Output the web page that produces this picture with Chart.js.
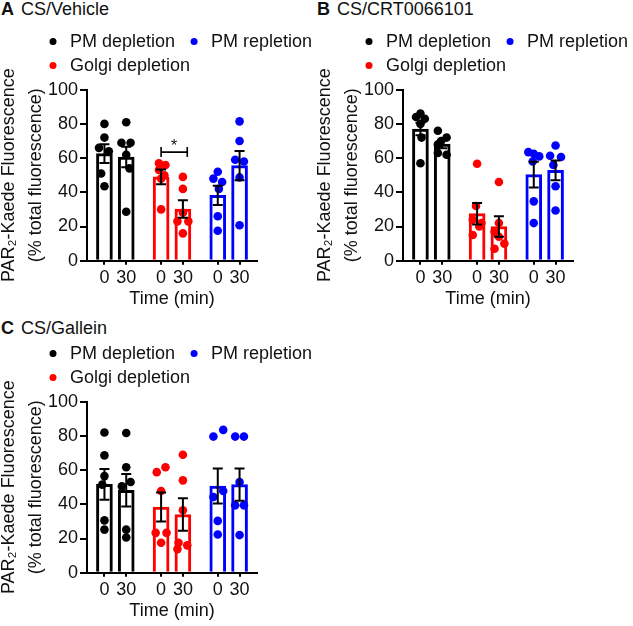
<!DOCTYPE html>
<html>
<head>
<meta charset="utf-8">
<script src="https://cdn.jsdelivr.net/npm/chart.js@4.4.0/dist/chart.umd.min.js"></script>
<style>
  body { margin: 0; background: #fff; width: 633px; height: 626px; position: relative; overflow: hidden; font-family: "Liberation Sans", Arial, sans-serif; }
  canvas { position: absolute; }
  .ttl { position: absolute; font-size: 18px; line-height: 18px; color: #111; white-space: nowrap; }
  .ttl b { margin-right: 2px; }
</style>
</head>
<body>
<div class="ttl" style="left:1px;top:0px"><b>A</b> CS/Vehicle</div>
<div class="ttl" style="left:317px;top:0px"><b>B</b> CS/CRT0066101</div>
<div class="ttl" style="left:1px;top:319px"><b>C</b> CS/Gallein</div>
<canvas id="chartA" width="316" height="310" style="left:0;top:0"></canvas>
<canvas id="chartB" width="316" height="310" style="left:316px;top:0"></canvas>
<canvas id="chartC" width="316" height="310" style="left:0;top:312px"></canvas>
<script>
/* Data */
const timeLabels = ['0', '30'];
const groups = ['PM depletion', 'Golgi depletion', 'PM repletion'];
const legendOrder = ['PM depletion', 'PM repletion', 'Golgi depletion'];
const groupColors = ['#000000', '#ff0000', '#0000ff'];

// bar order: PM dep 0, PM dep 30, Golgi 0, Golgi 30, PM rep 0, PM rep 30
const meansA = [62.6, 60.6, 49, 30.2, 38.2, 55.6];
const semsA = [5.5, 6, 4.3, 5.1, 5.6, 8.5];
const pointsA = [
  [80, 72, 66, 64, 51, 43.5],
  [81, 69, 69, 62, 54, 28.6],
  [57, 56, 53, 50, 48, 30],
  [49, 42, 28, 23, 23, 16],
  [52, 48, 46, 42, 26, 17.5],
  [81.5, 70, 59, 58, 48.7, 20.7]
];
const jitterA = [
  [0, 0, -0.25, 0.2, -0.15, 0],
  [0, -0.22, 0.2, 0, 0.15, 0],
  [-0.1, 0.2, -0.1, 0.15, 0, 0],
  [0, 0, 0, -0.25, 0.25, 0],
  [0, -0.2, 0.2, 0.05, 0, 0],
  [0, 0, -0.2, 0.2, 0, 0]
];

const meansB = [77, 68.2, 27.5, 20, 50.3, 52.8];
const semsB = [3.7, 2.5, 6.3, 6, 7.5, 5.8];
const pointsB = [
  [86, 84, 83, 80, 72, 57],
  [76, 72, 70, 68, 63, 62],
  [56.7, 32, 24, 22, 20, 15],
  [46, 22, 17, 14, 10, 7],
  [63.5, 62.5, 61, 58, 34.7, 22],
  [67.4, 61.4, 60.6, 56, 43.5, 29.4]
];
const jitterB = [
  [0, -0.2, 0.2, 0, 0.05, 0],
  [-0.2, 0.2, -0.05, -0.2, -0.2, 0.2],
  [0, -0.05, -0.2, 0.2, 0.1, -0.2],
  [0, 0, -0.2, 0, 0.25, -0.2],
  [-0.25, 0, 0.25, -0.05, 0, 0],
  [0, -0.25, 0.25, -0.1, 0, 0]
];

const meansC = [51.7, 48.2, 38.4, 34, 50.7, 51.5];
const semsC = [9, 9.5, 8.5, 9.5, 10.3, 9.4];
const pointsC = [
  [82, 68.6, 56.5, 51.5, 30.6, 25.2],
  [81.7, 61.7, 53, 50.5, 25.2, 20.6],
  [61.7, 58.8, 47.8, 23.3, 23.3, 17.5],
  [69, 54, 36.5, 17.5, 16, 13.8],
  [83.5, 79.6, 47.8, 44.3, 30.3, 22.3],
  [79.6, 79.6, 53, 39.4, 39.4, 22]
];
const jitterC = [
  [0, 0, 0, -0.1, 0, 0],
  [0, 0, 0.2, -0.2, 0, 0],
  [0.2, -0.2, 0, -0.25, 0.25, 0],
  [0, 0, 0, -0.2, 0.2, -0.25],
  [0.25, -0.2, 0.25, -0.2, 0, 0],
  [-0.2, 0.2, 0, -0.2, 0.2, 0]
];

// significance bracket in panel A (Golgi 0 vs 30)
const sigA = { from: 2.6, to: 3.8, y: 63.5, label: '*' };

/* Layout */
const FONT = '"Liberation Sans", Arial, sans-serif';
const INK = '#111';
const barSlots = [0, 1, 2.6, 3.6, 5.2, 6.2];

Chart.defaults.font.family = FONT;
Chart.defaults.color = INK;

const dotLegend = {
  id: 'dotLegend',
  afterDraw(chart) {
    const ctx = chart.ctx;
    ctx.save();
    ctx.font = '18px ' + FONT;
    ctx.textBaseline = 'alphabetic';
    let x = 49, y = 47;
    legendOrder.forEach((name, i) => {
      const color = groupColors[groups.indexOf(name)];
      if (i === 2) { x = 49; y = 71; }
      ctx.fillStyle = color;
      ctx.beginPath();
      ctx.arc(x + 4, y - 5.5, 3.5, 0, Math.PI * 2);
      ctx.fill();
      ctx.fillStyle = INK;
      ctx.fillText(name, x + 21, y);
      x += 21 + ctx.measureText(name).width + 15;
    });
    ctx.restore();
  }
};

const errorBars = {
  id: 'errorBars',
  afterDatasetsDraw(chart) {
    const { ctx } = chart;
    const xs = chart.scales.x, ys = chart.scales.y;
    ctx.save();
    ctx.strokeStyle = '#000';
    ctx.lineWidth = 2;
    chart.data.datasets.forEach(ds => {
      if (ds.type !== 'bar') return;
      ds.data.forEach((pt, i) => {
        const px = xs.getPixelForValue(pt.x);
        const top = ys.getPixelForValue(pt.y + ds.sem[i]);
        const bot = ys.getPixelForValue(pt.y - ds.sem[i]);
        ctx.beginPath();
        ctx.moveTo(px, top); ctx.lineTo(px, bot);
        ctx.moveTo(px - 5, top); ctx.lineTo(px + 5, top);
        ctx.moveTo(px - 5, bot); ctx.lineTo(px + 5, bot);
        ctx.stroke();
      });
    });
    const sig = chart.options.plugins.errorBars.sig;
    if (sig) {
      const x1 = xs.getPixelForValue(sig.from), x2 = xs.getPixelForValue(sig.to);
      const yy = ys.getPixelForValue(sig.y);
      ctx.lineWidth = 1.6;
      ctx.beginPath();
      ctx.moveTo(x1, yy - 5); ctx.lineTo(x1, yy + 5);
      ctx.moveTo(x1, yy); ctx.lineTo(x2, yy);
      ctx.moveTo(x2, yy - 5); ctx.lineTo(x2, yy + 5);
      ctx.stroke();
      ctx.fillStyle = INK;
      ctx.font = '16px ' + FONT;
      ctx.textAlign = 'center';
      ctx.textBaseline = 'alphabetic';
      ctx.fillText(sig.label, (x1 + x2) / 2, yy - 1);
    }
    ctx.restore();
  }
};

function makePanel(id, means, sems, points, jitter, sig) {
  const datasets = [];
  groups.forEach((name, g) => {
    const color = groupColors[g];
    const a = g * 2, b = g * 2 + 1;
    datasets.push({
      type: 'scatter',
      label: name,
      order: 1,
      data: [a, b].flatMap(k => points[k].map((v, j) => ({ x: barSlots[k] + jitter[k][j], y: v }))),
      backgroundColor: color,
      borderWidth: 0,
      pointRadius: 4.3
    });
    datasets.push({
      type: 'bar',
      label: name,
      order: 2,
      data: [{ x: barSlots[a], y: means[a] }, { x: barSlots[b], y: means[b] }],
      sem: [sems[a], sems[b]],
      backgroundColor: '#fff',
      borderColor: color,
      borderWidth: 3,
      barThickness: 16,
      grouped: false
    });
  });

  new Chart(document.getElementById(id), {
    type: 'bar',
    data: { datasets },
    options: {
      responsive: false,
      animation: false,
      events: [],
      layout: { padding: { top: 89.7, right: 59, bottom: 0, left: 0 } },
      plugins: {
        legend: { display: false },
        tooltip: { enabled: false },
        errorBars: { sig }
      },
      scales: {
        x: {
          type: 'linear',
          offset: false,
          min: -0.8,
          max: 7.0,
          afterBuildTicks: s => { s.ticks = barSlots.map(v => ({ value: v })); },
          afterFit: s => { s.height = 49.3; },
          ticks: {
            autoSkip: false,
            maxRotation: 0,
            padding: 3,
            font: { size: 18 },
            color: INK,
            callback: (v, i) => timeLabels[i % 2]
          },
          grid: { offset: false, drawOnChartArea: false, tickLength: 4, color: '#000', lineWidth: 2 },
          border: { color: '#000', width: 2 },
          title: { display: true, text: 'Time (min)', font: { size: 18 }, color: INK, padding: 0 }
        },
        y: {
          min: 0,
          max: 100,
          afterFit: s => { s.width = 87; },
          ticks: { stepSize: 20, padding: 2, font: { size: 18 }, color: INK },
          grid: { drawOnChartArea: false, tickLength: 7, color: '#000', lineWidth: 2 },
          border: { color: '#000', width: 2 },
          title: {
            display: true,
            text: ['PAR\u2082-Kaede Fluorescence', '(% total fluorescence)'],
            font: { size: 18, lineHeight: 1.5 },
            color: INK,
            padding: { top: -4, bottom: 0 }
          }
        }
      }
    },
    plugins: [dotLegend, errorBars]
  });
}

makePanel('chartA', meansA, semsA, pointsA, jitterA, sigA);
makePanel('chartB', meansB, semsB, pointsB, jitterB, null);
makePanel('chartC', meansC, semsC, pointsC, jitterC, null);
</script>
</body>
</html>
